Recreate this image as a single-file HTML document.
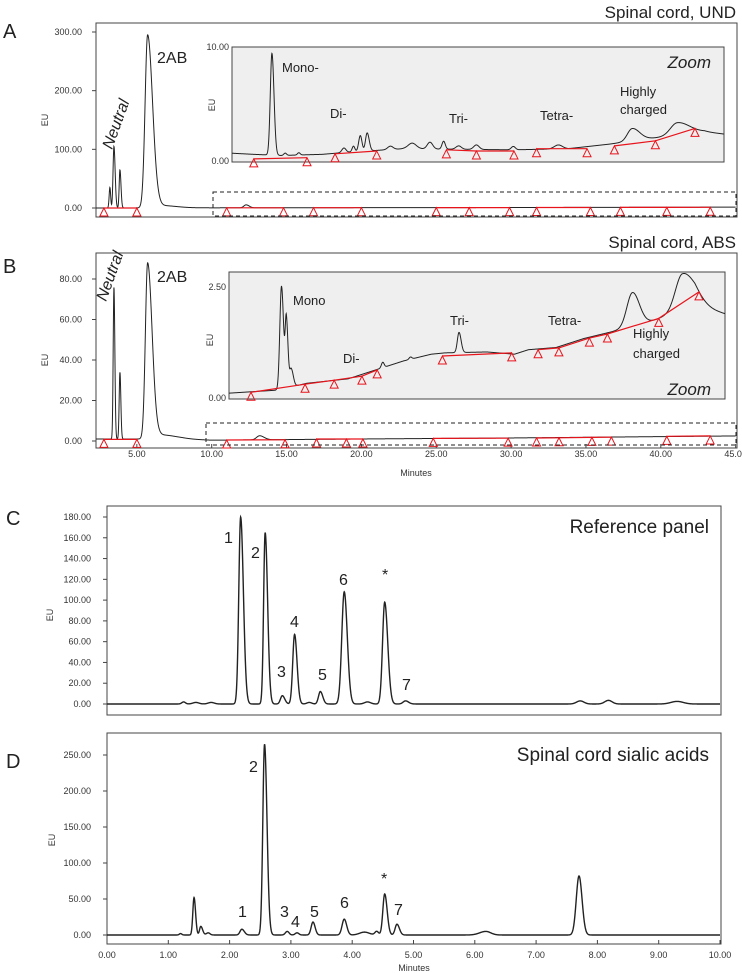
<!DOCTYPE html>
<html><head><meta charset="utf-8">
<style>
html,body{margin:0;padding:0;background:#fff;}
svg{display:block;font-family:"Liberation Sans",sans-serif;}
.tk{font-family:"Liberation Sans Narrow","Liberation Sans",sans-serif;font-size:9px;fill:#333;}
.lb{font-family:"Liberation Sans",sans-serif;font-size:16px;fill:#222;}
.il{font-family:"Liberation Sans",sans-serif;font-size:13px;fill:#222;}
</style></head>
<body>
<svg id="fig" width="742" height="973" viewBox="0 0 742 973" xmlns="http://www.w3.org/2000/svg">
<defs>
<clipPath id="clipA"><rect x="96" y="23" width="641" height="194"/></clipPath>
<clipPath id="clipB"><rect x="96" y="253" width="641" height="195"/></clipPath>
<clipPath id="clipIA"><rect x="232" y="47" width="492" height="115"/></clipPath>
<clipPath id="clipIB"><rect x="229" y="272" width="496" height="127"/></clipPath>
<clipPath id="clipC"><rect x="107" y="506" width="614" height="209"/></clipPath>
<clipPath id="clipD"><rect x="107" y="733" width="614" height="211"/></clipPath>
</defs>

<!-- Panel A -->
<text x="3" y="38" font-size="20" fill="#222">A</text>
<text x="736" y="18" font-size="17" fill="#222" text-anchor="end">Spinal cord, UND</text>
<rect x="96" y="23" width="641" height="194" fill="#fff" stroke="#444" stroke-width="1"/>
<text x="48" y="120" class="tk" transform="rotate(-90 48 120)" text-anchor="middle">EU</text>
<g id="gA"></g>
<rect x="213" y="192" width="523" height="24" fill="none" stroke="#222" stroke-dasharray="4,3"/>
<rect x="232" y="47" width="492" height="115" fill="#efefef" stroke="#444"/>
<g id="gIA"></g>
<text x="229" y="50" class="tk" text-anchor="end">10.00</text>
<text x="229" y="164" class="tk" text-anchor="end">0.00</text>
<text x="215" y="105" class="tk" transform="rotate(-90 215 105)" text-anchor="middle">EU</text>
<text x="112" y="150" class="lb" font-style="italic" transform="rotate(-70 112 150)">Neutral</text>
<text x="157" y="63" class="lb">2AB</text>
<text x="282" y="72" class="il">Mono-</text>
<text x="330" y="118" class="il">Di-</text>
<text x="449" y="123" class="il">Tri-</text>
<text x="540" y="120" class="il">Tetra-</text>
<text x="620" y="96" class="il">Highly</text>
<text x="620" y="114" class="il">charged</text>
<text x="711" y="68" font-size="17" font-style="italic" fill="#222" text-anchor="end">Zoom</text>

<!-- Panel B -->
<text x="3" y="273" font-size="20" fill="#222">B</text>
<text x="736" y="248" font-size="17" fill="#222" text-anchor="end">Spinal cord, ABS</text>
<rect x="96" y="253" width="641" height="195" fill="#fff" stroke="#444"/>
<text x="48" y="360" class="tk" transform="rotate(-90 48 360)" text-anchor="middle">EU</text>
<g id="gB"></g>
<rect x="206" y="423" width="530" height="22" fill="none" stroke="#222" stroke-dasharray="4,3"/>
<rect x="229" y="272" width="496" height="127" fill="#efefef" stroke="#444"/>
<g id="gIB"></g>
<text x="226" y="290" class="tk" text-anchor="end">2.50</text>
<text x="226" y="401" class="tk" text-anchor="end">0.00</text>
<text x="213" y="340" class="tk" transform="rotate(-90 213 340)" text-anchor="middle">EU</text>
<text x="106" y="302" class="lb" font-style="italic" transform="rotate(-70 106 302)">Neutral</text>
<text x="157" y="282" class="lb">2AB</text>
<text x="293" y="305" class="il">Mono</text>
<text x="343" y="363" class="il">Di-</text>
<text x="450" y="325" class="il">Tri-</text>
<text x="548" y="325" class="il">Tetra-</text>
<text x="633" y="338" class="il">Highly</text>
<text x="633" y="358" class="il">charged</text>
<text x="711" y="395" font-size="17" font-style="italic" fill="#222" text-anchor="end">Zoom</text>
<text x="416" y="476" class="tk" text-anchor="middle">Minutes</text>

<!-- Panel C -->
<text x="6" y="525" font-size="20" fill="#222">C</text>
<rect x="107" y="506" width="614" height="209" fill="#fff" stroke="#444"/>
<text x="53" y="615" class="tk" transform="rotate(-90 53 615)" text-anchor="middle">EU</text>
<g id="gC"></g>
<text x="709" y="533" font-size="19" fill="#222" text-anchor="end">Reference  panel</text>

<!-- Panel D -->
<text x="6" y="768" font-size="20" fill="#222">D</text>
<rect x="107" y="733" width="614" height="211" fill="#fff" stroke="#444"/>
<text x="55" y="840" class="tk" transform="rotate(-90 55 840)" text-anchor="middle">EU</text>
<g id="gD"></g>
<text x="709" y="761" font-size="19" fill="#222" text-anchor="end">Spinal cord sialic acids</text>
<text x="414" y="971" class="tk" text-anchor="middle">Minutes</text>
</svg>

<script>
// ---------- data ----------
// peaks: [center minutes, height EU, sigma left, sigma right]
const peaksA = [[3.2,35,0.05,0.05],[3.47,105,0.06,0.08],[3.87,65,0.05,0.07],[5.72,295,0.17,0.33],[6.6,4,0.3,1.0],[12.3,5,0.15,0.2]];
const baseA = [[2.27,0],[10,0.3],[30,0.8],[45,1.5]];
const ticksA = [0,100,200,300];
const redA = [[[2.8,0],[5.0,0]],[[11,0.3],[14.8,0.3]],[[16.8,0.5],[20,0.5]],[[25,0.7],[27.2,0.7],[29.9,0.7]],[[31.7,0.8],[35.3,0.8]],[[37.3,1],[40.4,1],[43.3,1.2]]];

const peaksIA = [[12.33,9,0.12,0.15],[13.3,0.2,0.1,0.1],[14.3,0.2,0.1,0.1],[17.6,0.4,0.15,0.15],[18.3,0.5,0.1,0.1],[18.8,1.4,0.12,0.12],[19.3,1.6,0.12,0.15],[21,0.3,0.2,0.2],[22.6,0.5,0.3,0.3],[23.9,0.6,0.2,0.2],[24.9,0.7,0.12,0.12],[26,0.3,0.2,0.2],[27.3,0.4,0.2,0.2],[30,0.3,0.15,0.15],[33.3,0.35,0.3,0.3],[38.7,1.1,0.35,0.55],[42,1.1,0.5,0.9]];
const baseIA = [[9.4,0.6],[11,0.5],[13,0.4],[16,0.5],[18,0.7],[22,1.0],[26,0.95],[30,0.9],[34,1.0],[37,1.4],[40,1.9],[44,2.5],[45.4,2.3]];
const redIA = [[[11.0,0.1],[14.9,0.2]],[[16.95,0.55],[20.0,0.8]],[[25.1,0.9],[27.3,0.8],[30.05,0.8]],[[31.7,1.0],[35.4,1.0]],[[37.4,1.25],[40.4,1.7],[43.3,2.8]]];

const peaksB = [[3.47,75,0.05,0.06],[3.87,33,0.05,0.06],[5.72,87,0.15,0.3],[6.6,2,0.3,1.0],[13.2,2,0.2,0.3]];
const baseB = [[2.27,1],[8,1],[10,0.4],[20,1],[30,1.5],[45,2.5]];
const ticksB = [0,20,40,60,80];
const xTicksB = [5,10,15,20,25,30,35,40,45];
const redB = [[[2.8,0.8],[5.0,0.8]],[[11,0.5],[14.9,0.6]],[[17,1],[19,1],[20.1,1]],[[24.8,1.3],[29.8,1.4]],[[31.7,1.5],[33.2,1.6],[35.4,1.8],[36.7,1.9]],[[40.4,2.3],[43.3,2.5]]];

const peaksIB = [[13.2,2.3,0.12,0.15],[13.55,1.5,0.08,0.12],[13.9,0.4,0.1,0.15],[20.5,0.12,0.1,0.1],[22.5,0.05,0.1,0.1],[26.0,0.45,0.12,0.15],[38.5,0.75,0.4,0.5],[42.1,0.8,0.5,0.9]];
const baseIB = [[9.4,0.13],[13,0.2],[15,0.35],[18,0.45],[20,0.65],[22,0.85],[24,1.0],[25,1.03],[28,1.05],[30,1.0],[31,1.1],[33,1.15],[35,1.35],[37,1.5],[40,1.75],[43,2.1],[45.2,1.9]];
const redIB = [[[11,0.15],[14.9,0.33],[17,0.42],[19,0.51],[20.1,0.65]],[[24.8,0.96],[29.8,1.03]],[[31.7,1.1],[33.2,1.14],[35.4,1.36],[36.7,1.45],[40.4,1.8],[43.3,2.39]]];

const peaksC = [[1.25,2,0.03,0.03],[1.45,1.5,0.05,0.05],[1.7,1.5,0.05,0.05],[2.18,180,0.03,0.045],[2.58,165,0.025,0.04],[2.86,8,0.03,0.04],[3.06,67,0.03,0.04],[3.3,1.5,0.04,0.04],[3.48,12,0.03,0.04],[3.87,108,0.04,0.05],[4.25,2,0.05,0.05],[4.53,98,0.035,0.05],[4.87,3,0.04,0.05],[7.72,3,0.06,0.06],[8.18,3.5,0.06,0.06],[9.3,2.5,0.1,0.1]];
const ticksC = [0,20,40,60,80,100,120,140,160,180];
const labelsC = [["1",224,543],["2",251,558],["3",277,677],["4",290,627],["5",318,680],["6",339,585],["*",382,580],["7",402,690]];

const peaksD = [[1.2,2,0.02,0.02],[1.42,52,0.02,0.025],[1.53,12,0.02,0.03],[1.65,3,0.03,0.03],[2.2,8,0.03,0.04],[2.57,265,0.028,0.04],[2.94,5,0.03,0.03],[3.1,3,0.03,0.03],[3.36,18,0.03,0.035],[3.87,22,0.035,0.04],[4.2,4,0.08,0.08],[4.4,5,0.03,0.03],[4.53,57,0.03,0.04],[4.73,15,0.03,0.04],[6.18,5,0.1,0.08],[7.7,82,0.045,0.05]];
const ticksD = [0,50,100,150,200,250];
const xTicksD = [0,1,2,3,4,5,6,7,8,9,10];
const labelsD = [["2",249,772],["1",238,917],["3",280,917],["4",291,927],["5",310,917],["6",340,908],["*",381,884],["7",394,915]];

// ---------- helpers ----------
const NS = "http://www.w3.org/2000/svg";
function mk(tag, attrs, parent){const e=document.createElementNS(NS,tag);for(const k in attrs)e.setAttribute(k,attrs[k]);parent.appendChild(e);return e;}
function interp(base,m){if(m<=base[0][0])return base[0][1];for(let i=1;i<base.length;i++){if(m<=base[i][0]){const a=base[i-1],b=base[i];return a[1]+(b[1]-a[1])*(m-a[0])/(b[0]-a[0]);}}return base[base.length-1][1];}
function signal(peaks,base,m){let v=interp(base,m);for(const p of peaks){const s=m<p[0]?p[2]:p[3];v+=p[1]*Math.exp(-0.5*((m-p[0])/s)**2);}return v;}
function trace(g,peaks,base,x0,x1,sx,sy,clip,w,name){let d="";const n=3000;for(let i=0;i<=n;i++){const m=x0+(x1-x0)*i/n;d+=(i?"L":"M")+sx(m).toFixed(2)+","+sy(signal(peaks,base,m)).toFixed(2);}
 const p=mk("path",{d:d,fill:"none",stroke:"#222","stroke-width":w,"clip-path":"url(#"+clip+")"},g);
 
 }
function red(g,segs,sx,sy,name){segs.forEach(seg=>{const d=seg.map((p,i)=>(i?"L":"M")+sx(p[0]).toFixed(1)+","+sy(p[1]).toFixed(1)).join("");
 const l=mk("path",{d:d,fill:"none",stroke:"#e8141c","stroke-width":1.2},g);
 
 
 seg.forEach(p=>{const x=sx(p[0]),y=sy(p[1]);
  const t=mk("polygon",{points:`${x},${y} ${x-4},${y+8} ${x+4},${y+8}`,fill:"none",stroke:"#e8141c","stroke-width":1},g);
  
  });});}
function yTicks(g,ticks,sy,xAxis,xLab,name){ticks.forEach(v=>{const y=sy(v);
 const l=mk("line",{x1:xAxis-4,x2:xAxis,y1:y,y2:y,stroke:"#444"},g);
 
 
 const t=mk("text",{x:xLab,y:y+3,"text-anchor":"end",class:"tk"},g);t.textContent=v.toFixed(2);
 
 });}
function xTicks(g,ticks,sx,yAxis,yLab,name){ticks.forEach(v=>{const x=sx(v);
 const l=mk("line",{x1:x,x2:x,y1:yAxis,y2:yAxis-4,stroke:"#444"},g);
 
 
 const t=mk("text",{x:x,y:yLab,"text-anchor":"middle",class:"tk"},g);t.textContent=v.toFixed(2);
 
 });}
function labels(g,arr,name){arr.forEach(a=>{const t=mk("text",{x:a[1],y:a[2],class:"lb","font-size":"17"},g);t.textContent=a[0];
 
 });}

// ---------- scales ----------
const sxAB = m=>62+14.97*m;
const syA = v=>208-v*176/300;
const syB = v=>441-v*162/80;
const sxIA = m=>103.5+13.66*m;
const syIA = v=>160-v*11.3;
const sxIB = m=>98.4+13.87*m;
const syIB = v=>399-v*44.8;
const sxCD = m=>107+61.3*m;
const syC = v=>704-v*187/180;
const syD = v=>935-v*180/250;

const gA=document.getElementById("gA"),gB=document.getElementById("gB"),gIA=document.getElementById("gIA"),gIB=document.getElementById("gIB"),gC=document.getElementById("gC"),gD=document.getElementById("gD");

yTicks(gA,ticksA,syA,96,82,"panel-a-y");
trace(gA,peaksA,baseA,2.27,45,sxAB,syA,"clipA",1,"panel-a-trace");
red(gA,redA,sxAB,syA,"panel-a");
trace(gIA,peaksIA,baseIA,9.4,45.4,sxIA,syIA,"clipIA",1,"inset-a-trace");
red(gIA,redIA,sxIA,syIA,"inset-a");

yTicks(gB,ticksB,syB,96,82,"panel-b-y");
xTicks(gB,xTicksB,sxAB,448,457,"panel-b-x");
trace(gB,peaksB,baseB,2.27,45,sxAB,syB,"clipB",1,"panel-b-trace");
red(gB,redB,sxAB,syB,"panel-b");
trace(gIB,peaksIB,baseIB,9.4,45.2,sxIB,syIB,"clipIB",1,"inset-b-trace");
red(gIB,redIB,sxIB,syIB,"inset-b");

yTicks(gC,ticksC,syC,107,91,"panel-c-y");
trace(gC,peaksC,[[0,0],[10,0]],0,10,sxCD,syC,"clipC",1.4,"panel-c-trace");
labels(gC,labelsC,"panel-c");

yTicks(gD,ticksD,syD,107,91,"panel-d-y");
xTicks(gD,xTicksD,sxCD,944,958,"panel-d-x");
trace(gD,peaksD,[[0,0],[10,0]],0,10,sxCD,syD,"clipD",1.4,"panel-d-trace");
labels(gD,labelsD,"panel-d");
</script>
</body></html>
